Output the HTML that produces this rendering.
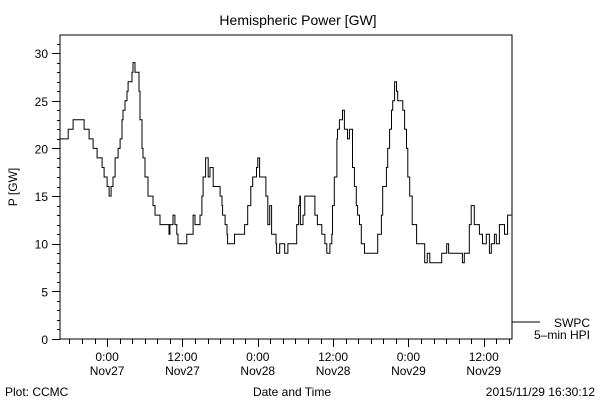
<!DOCTYPE html>
<html><head><meta charset="utf-8"><style>
body{margin:0;background:#fff}
svg{display:block;font-family:"Liberation Sans",sans-serif}
</style></head><body>
<svg id="chart" width="600" height="400" viewBox="0 0 600 400" xmlns="http://www.w3.org/2000/svg">
<rect width="600" height="400" fill="#fff"/>
<text x="298" y="25" font-size="14" text-anchor="middle">Hemispheric Power [GW]</text>
<rect x="60" y="35" width="452" height="304" fill="none" stroke="#000" stroke-width="1"/>
<g id="ticks"></g>
<path id="series" fill="none" stroke="#000" stroke-width="1"/>
<text transform="translate(17,187) rotate(-90)" font-size="12" text-anchor="middle">P [GW]</text>
<line x1="512" y1="322" x2="540" y2="322" stroke="#000"/>
<text x="590" y="327" font-size="12" text-anchor="end">SWPC</text>
<text x="590" y="339" font-size="12" text-anchor="end">5–min HPI</text>
<text x="5" y="396" font-size="12">Plot: CCMC</text>
<text x="292" y="396" font-size="12" text-anchor="middle">Date and Time</text>
<text x="595" y="396" font-size="12" text-anchor="end">2015/11/29 16:30:12</text>
</svg>
<script>
// hours relative to Nov27 00:00
const times=[-7.47,-6.2,-5.41,-3.66,-2.86,-2.23,-1.59,-0.79,-0.48,0,0.32,0.64,0.95,1.27,1.75,2.07,2.38,2.54,2.86,3.18,3.34,3.97,4.13,4.45,5.09,5.25,5.56,5.72,6.04,6.52,7.31,7.63,8.43,9.86,10.0,10.5,10.8,11.1,11.3,12.7,13.7,14.0,14.8,15.1,15.3,15.7,16.1,16.4,16.9,18.0,18.3,18.4,18.8,19.1,19.2,20.3,21.9,22.4,22.9,23.2,23.8,24.0,24.3,25.3,25.6,25.9,26.2,26.9,27.0,27.5,28.3,28.8,30.2,30.5,30.7,30.8,31.2,31.5,33.1,33.5,34.2,34.7,35.0,35.5,35.8,35.9,36.2,36.6,36.7,37.0,37.5,37.8,38.3,38.6,39.1,39.4,39.7,39.9,40.2,40.5,41.0,43.1,43.7,43.9,44.5,44.7,45.0,45.3,45.5,45.8,46.1,46.3,47.1,47.4,47.7,47.9,48.2,48.6,49.3,50.6,51.0,51.4,53.3,54.1,54.4,56.6,56.9,57.7,58.0,58.5,59.3,59.8,60.4,60.9,61.2,61.7,62.0,62.5,63.3,63.8,64.4];
const power=[21,22,23,22,21,20,19,18,17,16,15,16,17,19,20,21,23,24,25,26,27,28,29,28,26,23,20,19,17,15,14,13,12,11,12,13,12,11,10,11,13,12,13,15,17,19,17,18,16,15,14,13,12,11,10,11,12,14,16,17,18,19,17,15,12,14,11,10,9,10,9,10,12,14,15,12,13,15,13,12,11,10,9,10,11,14,17,21,22,23,24,22,21,22,18,16,14,13,12,10,9,11,13,16,18,20,22,24,25,27,26,25,24,22,20,17,15,12,10,8,9,8,9,10,9,8,9,12,14,12,11,10,11,9,10,11,10,12,11,13,13];
const yTickLabels=["0","5","10","15","20","25","30"];
const xTickHours=[0,12,24,36,48,60];
const xTickTimes=["0:00","12:00","0:00","12:00","0:00","12:00"];
const xTickDates=["Nov27","Nov27","Nov28","Nov28","Nov29","Nov29"];
const X0=60,X1=512,Y0=339,Y1=35,HMIN=-7.5,HMAX=64.5,VMIN=0,VMAX=31.9;
const xs=h=>X0+(h-HMIN)/(HMAX-HMIN)*(X1-X0);
const ys=v=>Y0-(v-VMIN)/(VMAX-VMIN)*(Y0-Y1);
const NS="http://www.w3.org/2000/svg";
const g=document.getElementById('ticks');
function ln(x1,y1,x2,y2){const l=document.createElementNS(NS,'line');l.setAttribute('x1',x1);l.setAttribute('y1',y1);l.setAttribute('x2',x2);l.setAttribute('y2',y2);l.setAttribute('stroke','#000');g.appendChild(l);return l;}
function tx(x,y,s,anchor){const t=document.createElementNS(NS,'text');t.setAttribute('x',x);t.setAttribute('y',y);t.setAttribute('font-size','12');t.setAttribute('text-anchor',anchor);t.textContent=s;g.appendChild(t);return t;}
for(let v=0;v<=31;v++){const y=Math.round(ys(v))+0.5;const major=v%5===0;const l=ln(major?52:57,y,60,y);

}
yTickLabels.forEach(s=>{const t=tx(48,ys(+s)+5,s,'end');

});
for(let h=-6;h<=64;h+=2){const x=Math.round(xs(h))+0.5;const major=h%12===0;const l=ln(x,339,x,major?347:344);

}
xTickHours.forEach((h,i)=>{const a=tx(xs(h),361,xTickTimes[i],'middle');


const b=tx(xs(h),375,xTickDates[i],'middle');

});
let d='M'+xs(times[0]).toFixed(1)+' '+ys(power[0]).toFixed(1);
for(let i=1;i<times.length;i++){d+=' H'+xs(times[i]).toFixed(1)+' V'+ys(power[i]).toFixed(1);}
document.getElementById('series').setAttribute('d',d);
</script>
</body></html>
